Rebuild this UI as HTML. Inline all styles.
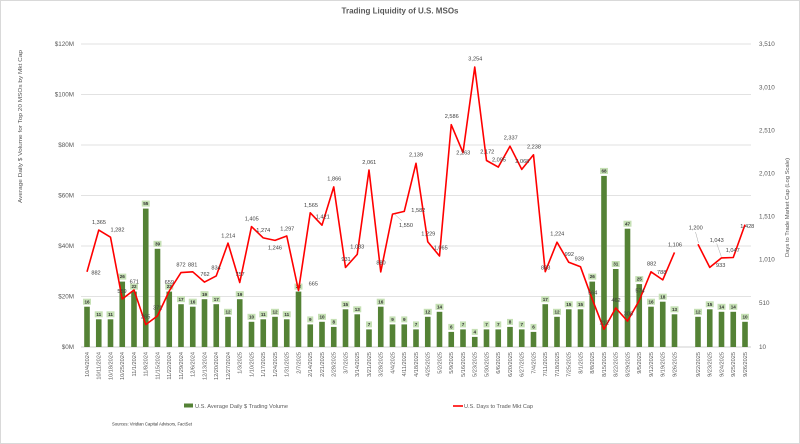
<!DOCTYPE html>
<html><head><meta charset="utf-8"><style>html,body{margin:0;padding:0;background:#fff}svg{display:block}text{font-family:"Liberation Sans",sans-serif}</style></head><body>
<svg width="800" height="444" viewBox="0 0 800 444" xmlns="http://www.w3.org/2000/svg">
<rect x="0" y="0" width="800" height="444" fill="#fff"/>
<rect x="0.5" y="0.5" width="799" height="443" fill="none" stroke="#d9d9d9" stroke-width="1"/>
<text x="400" y="13.5" text-anchor="middle" font-size="8" font-weight="bold" fill="#595959" textLength="117" lengthAdjust="spacingAndGlyphs">Trading Liquidity of U.S. MSOs</text>
<g stroke="#d9d9d9" stroke-width="0.8">
<line x1="81" y1="44" x2="751" y2="44"/><line x1="81" y1="94.5" x2="751" y2="94.5"/><line x1="81" y1="145" x2="751" y2="145"/><line x1="81" y1="195.5" x2="751" y2="195.5"/><line x1="81" y1="246" x2="751" y2="246"/><line x1="81" y1="296.5" x2="751" y2="296.5"/>
</g>
<line x1="81" y1="347" x2="751" y2="347" stroke="#bfbfbf" stroke-width="0.8"/>
<g font-size="6.3" fill="#595959" text-anchor="end">
<text x="74" y="46.2">$120M</text><text x="74" y="96.7">$100M</text><text x="74" y="147.2">$80M</text><text x="74" y="197.7">$60M</text><text x="74" y="248.2">$40M</text><text x="74" y="298.7">$20M</text><text x="74" y="349.2">$0M</text>
</g>
<g font-size="6.3" fill="#595959">
<text x="759" y="46.2">3,510</text><text x="759" y="89.3">3,010</text><text x="759" y="132.4">2,510</text><text x="759" y="175.5">2,010</text><text x="759" y="218.6">1,510</text><text x="759" y="261.7">1,010</text><text x="759" y="304.8">510</text><text x="759" y="349.2">10</text>
</g>
<text transform="translate(22,126.5) rotate(-90)" text-anchor="middle" font-size="5.8" fill="#595959" textLength="153" lengthAdjust="spacingAndGlyphs">Average Daily $ Volume for Top 20 MSOs by Mkt Cap</text>
<text transform="translate(789,207.5) rotate(-90)" text-anchor="middle" font-size="5.6" fill="#595959" textLength="99" lengthAdjust="spacingAndGlyphs">Days to Trade Market Cap (Log Scale)</text>
<g fill="#548235">
<rect x="84.2" y="306.7" width="5.6" height="40.3"/><rect x="95.95" y="319.3" width="5.6" height="27.7"/><rect x="107.7" y="319.3" width="5.6" height="27.7"/><rect x="119.45" y="281.6" width="5.6" height="65.4"/><rect x="131.2" y="291.6" width="5.6" height="55.4"/><rect x="142.95" y="208.6" width="5.6" height="138.4"/><rect x="154.7" y="248.8" width="5.6" height="98.2"/><rect x="166.45" y="291.6" width="5.6" height="55.4"/><rect x="178.2" y="304.2" width="5.6" height="42.8"/><rect x="189.95" y="306.7" width="5.6" height="40.3"/><rect x="201.7" y="299.2" width="5.6" height="47.8"/><rect x="213.45" y="304.2" width="5.6" height="42.8"/><rect x="225.2" y="316.8" width="5.6" height="30.2"/><rect x="236.95" y="299.2" width="5.6" height="47.8"/><rect x="248.7" y="321.8" width="5.6" height="25.2"/><rect x="260.45" y="319.3" width="5.6" height="27.7"/><rect x="272.2" y="316.8" width="5.6" height="30.2"/><rect x="283.95" y="319.3" width="5.6" height="27.7"/><rect x="295.7" y="291.6" width="5.6" height="55.4"/><rect x="307.45" y="324.4" width="5.6" height="22.6"/><rect x="319.2" y="321.8" width="5.6" height="25.2"/><rect x="330.95" y="326.9" width="5.6" height="20.1"/><rect x="342.7" y="309.3" width="5.6" height="37.7"/><rect x="354.45" y="314.3" width="5.6" height="32.7"/><rect x="366.2" y="329.4" width="5.6" height="17.6"/><rect x="377.95" y="306.7" width="5.6" height="40.3"/><rect x="389.7" y="324.4" width="5.6" height="22.6"/><rect x="401.45" y="324.4" width="5.6" height="22.6"/><rect x="413.2" y="329.4" width="5.6" height="17.6"/><rect x="424.95" y="316.8" width="5.6" height="30.2"/><rect x="436.7" y="311.8" width="5.6" height="35.2"/><rect x="448.45" y="331.9" width="5.6" height="15.1"/><rect x="460.2" y="329.4" width="5.6" height="17.6"/><rect x="471.95" y="336.9" width="5.6" height="10.1"/><rect x="483.7" y="329.4" width="5.6" height="17.6"/><rect x="495.45" y="329.4" width="5.6" height="17.6"/><rect x="507.2" y="326.9" width="5.6" height="20.1"/><rect x="518.95" y="329.4" width="5.6" height="17.6"/><rect x="530.7" y="331.9" width="5.6" height="15.1"/><rect x="542.45" y="304.2" width="5.6" height="42.8"/><rect x="554.2" y="316.8" width="5.6" height="30.2"/><rect x="565.95" y="309.3" width="5.6" height="37.7"/><rect x="577.7" y="309.3" width="5.6" height="37.7"/><rect x="589.45" y="281.6" width="5.6" height="65.4"/><rect x="601.2" y="175.9" width="5.6" height="171.1"/><rect x="612.95" y="269" width="5.6" height="78"/><rect x="624.7" y="228.7" width="5.6" height="118.3"/><rect x="636.45" y="284.1" width="5.6" height="62.9"/><rect x="648.2" y="306.7" width="5.6" height="40.3"/><rect x="659.95" y="301.7" width="5.6" height="45.3"/><rect x="671.7" y="314.3" width="5.6" height="32.7"/><rect x="695.2" y="316.8" width="5.6" height="30.2"/><rect x="706.95" y="309.3" width="5.6" height="37.7"/><rect x="718.7" y="311.8" width="5.6" height="35.2"/><rect x="730.45" y="311.8" width="5.6" height="35.2"/><rect x="742.2" y="321.8" width="5.6" height="25.2"/>
</g>
<g fill="#c5e0b4">
<rect x="83" y="298.7" width="8" height="6"/><rect x="94.75" y="311.3" width="8" height="6"/><rect x="106.5" y="311.3" width="8" height="6"/><rect x="118.25" y="273.6" width="8" height="6"/><rect x="130" y="283.6" width="8" height="6"/><rect x="141.75" y="200.6" width="8" height="6"/><rect x="153.5" y="240.8" width="8" height="6"/><rect x="165.25" y="283.6" width="8" height="6"/><rect x="177" y="296.2" width="8" height="6"/><rect x="188.75" y="298.7" width="8" height="6"/><rect x="200.5" y="291.2" width="8" height="6"/><rect x="212.25" y="296.2" width="8" height="6"/><rect x="224" y="308.8" width="8" height="6"/><rect x="235.75" y="291.2" width="8" height="6"/><rect x="247.5" y="313.8" width="8" height="6"/><rect x="259.25" y="311.3" width="8" height="6"/><rect x="271" y="308.8" width="8" height="6"/><rect x="282.75" y="311.3" width="8" height="6"/><rect x="294.5" y="283.6" width="8" height="6"/><rect x="307.25" y="316.4" width="6" height="6"/><rect x="318" y="313.8" width="8" height="6"/><rect x="330.75" y="318.9" width="6" height="6"/><rect x="341.5" y="301.3" width="8" height="6"/><rect x="353.25" y="306.3" width="8" height="6"/><rect x="366" y="321.4" width="6" height="6"/><rect x="376.75" y="298.7" width="8" height="6"/><rect x="389.5" y="316.4" width="6" height="6"/><rect x="401.25" y="316.4" width="6" height="6"/><rect x="413" y="321.4" width="6" height="6"/><rect x="423.75" y="308.8" width="8" height="6"/><rect x="435.5" y="303.8" width="8" height="6"/><rect x="448.25" y="323.9" width="6" height="6"/><rect x="460" y="321.4" width="6" height="6"/><rect x="471.75" y="328.9" width="6" height="6"/><rect x="483.5" y="321.4" width="6" height="6"/><rect x="495.25" y="321.4" width="6" height="6"/><rect x="507" y="318.9" width="6" height="6"/><rect x="518.75" y="321.4" width="6" height="6"/><rect x="530.5" y="323.9" width="6" height="6"/><rect x="541.25" y="296.2" width="8" height="6"/><rect x="553" y="308.8" width="8" height="6"/><rect x="564.75" y="301.3" width="8" height="6"/><rect x="576.5" y="301.3" width="8" height="6"/><rect x="588.25" y="273.6" width="8" height="6"/><rect x="600" y="167.9" width="8" height="6"/><rect x="611.75" y="261" width="8" height="6"/><rect x="623.5" y="220.7" width="8" height="6"/><rect x="635.25" y="276.1" width="8" height="6"/><rect x="647" y="298.7" width="8" height="6"/><rect x="658.75" y="293.7" width="8" height="6"/><rect x="670.5" y="306.3" width="8" height="6"/><rect x="694" y="308.8" width="8" height="6"/><rect x="705.75" y="301.3" width="8" height="6"/><rect x="717.5" y="303.8" width="8" height="6"/><rect x="729.25" y="303.8" width="8" height="6"/><rect x="741" y="313.8" width="8" height="6"/>
</g>
<g font-size="4.6" font-weight="bold" fill="#333" text-anchor="middle">
<text x="87" y="303.3">16</text><text x="98.75" y="315.9">11</text><text x="110.5" y="315.9">11</text><text x="122.25" y="278.2">26</text><text x="134" y="288.2">22</text><text x="145.75" y="205.2">55</text><text x="157.5" y="245.4">39</text><text x="169.25" y="288.2">22</text><text x="181" y="300.8">17</text><text x="192.75" y="303.3">16</text><text x="204.5" y="295.8">19</text><text x="216.25" y="300.8">17</text><text x="228" y="313.4">12</text><text x="239.75" y="295.8">19</text><text x="251.5" y="318.4">10</text><text x="263.25" y="315.9">11</text><text x="275" y="313.4">12</text><text x="286.75" y="315.9">11</text><text x="298.5" y="288.2">22</text><text x="310.25" y="321">9</text><text x="322" y="318.4">10</text><text x="333.75" y="323.5">8</text><text x="345.5" y="305.9">15</text><text x="357.25" y="310.9">13</text><text x="369" y="326">7</text><text x="380.75" y="303.3">16</text><text x="392.5" y="321">9</text><text x="404.25" y="321">9</text><text x="416" y="326">7</text><text x="427.75" y="313.4">12</text><text x="439.5" y="308.4">14</text><text x="451.25" y="328.5">6</text><text x="463" y="326">7</text><text x="474.75" y="333.5">4</text><text x="486.5" y="326">7</text><text x="498.25" y="326">7</text><text x="510" y="323.5">8</text><text x="521.75" y="326">7</text><text x="533.5" y="328.5">6</text><text x="545.25" y="300.8">17</text><text x="557" y="313.4">12</text><text x="568.75" y="305.9">15</text><text x="580.5" y="305.9">15</text><text x="592.25" y="278.2">26</text><text x="604" y="172.5">68</text><text x="615.75" y="265.6">31</text><text x="627.5" y="225.3">47</text><text x="639.25" y="280.7">25</text><text x="651" y="303.3">16</text><text x="662.75" y="298.3">18</text><text x="674.5" y="310.9">13</text><text x="698" y="313.4">12</text><text x="709.75" y="305.9">15</text><text x="721.5" y="308.4">14</text><text x="733.25" y="308.4">14</text><text x="745" y="318.4">10</text>
</g>
<g fill="none" stroke="#ff0000" stroke-width="1.6" stroke-linejoin="round">
<polyline points="87,271.8 98.75,230.1 110.5,237.2 122.25,299 134,290 145.75,324.6 157.5,315.9 169.25,291 181,272.6 192.75,271.8 204.5,282.1 216.25,275.9 228,243.1 239.75,282.5 251.5,226.6 263.25,237.9 275,240.4 286.75,236 298.5,290.5 310.25,212.8 322,225.2 333.75,186.9 345.5,267.5 357.25,254.4 369,170 380.75,271.9 392.5,214.1 404.25,211.4 416,163.3 427.75,241.8 439.5,256 451.25,124.7 463,152.6 474.75,67.1 486.5,160.5 498.25,167.1 510,146.2 521.75,169.4 533.5,154.8 545.25,271.7 557,242.2 568.75,262.3 580.5,266.8 592.25,299.2 604,329.3 615.75,308 627.5,321.1 639.25,300.5 651,271.8 662.75,279.9 674.5,252.4"/>
<polyline points="698,244.3 709.75,267.4 721.5,257.9 733.25,257.5 745,224.6"/>
</g>
<g stroke="#a6a6a6" stroke-width="0.5">
<line x1="395" y1="214.5" x2="402" y2="221"/><line x1="695.5" y1="232" x2="698.5" y2="243"/><line x1="716.7" y1="243.5" x2="721.3" y2="256.5"/>
</g>
<g font-size="5.6" fill="#404040" text-anchor="middle">
<text x="96" y="274.7">882</text><text x="99" y="224">1,365</text><text x="117.5" y="231.3">1,282</text><text x="122" y="293">559</text><text x="134.3" y="283.7">671</text><text x="145.7" y="318.7">265</text><text x="157.7" y="309.7">371</text><text x="169.3" y="284">659</text><text x="181" y="266.3">872</text><text x="192.7" y="266.3">881</text><text x="205" y="275.8">762</text><text x="216" y="269.7">834</text><text x="228.3" y="237.3">1,214</text><text x="240" y="276">757</text><text x="251.7" y="220.7">1,405</text><text x="263.3" y="232">1,274</text><text x="275" y="249.3">1,246</text><text x="287.3" y="230.3">1,297</text><text x="313.3" y="285.3">665</text><text x="311" y="207">1,565</text><text x="322.7" y="218.7">1,421</text><text x="334.3" y="180.7">1,866</text><text x="346" y="261">931</text><text x="357.3" y="248.7">1,083</text><text x="369.3" y="164">2,061</text><text x="381" y="264.7">880</text><text x="406" y="227">1,550</text><text x="418.3" y="212">1,582</text><text x="416" y="156.3">2,139</text><text x="428.3" y="235.3">1,229</text><text x="440.7" y="249.7">1,065</text><text x="451.7" y="118">2,586</text><text x="463.3" y="154.7">2,263</text><text x="475.3" y="60.3">3,254</text><text x="487.3" y="153.7">2,172</text><text x="499" y="161.3">2,095</text><text x="510.7" y="139.7">2,337</text><text x="522.3" y="163">2,068</text><text x="534" y="148.7">2,238</text><text x="545.7" y="269.7">883</text><text x="557.3" y="235.3">1,224</text><text x="569.3" y="256">992</text><text x="579.3" y="260.7">939</text><text x="592.7" y="294.7">564</text><text x="604.3" y="324.7">212</text><text x="616" y="302">462</text><text x="628.3" y="315.3">308</text><text x="640" y="292.7">574</text><text x="651.7" y="265.3">882</text><text x="661.7" y="274">788</text><text x="675" y="246.3">1,106</text><text x="695.7" y="229.7">1,200</text><text x="716.7" y="242">1,043</text><text x="720.7" y="267">933</text><text x="732.7" y="252">1,047</text><text x="747.3" y="228">1,428</text>
</g>
<g font-size="5.6" fill="#595959" text-anchor="end">
<text transform="translate(88.9,352) rotate(-90)">10/4/2024</text><text transform="translate(100.65,352) rotate(-90)">10/11/2024</text><text transform="translate(112.4,352) rotate(-90)">10/18/2024</text><text transform="translate(124.15,352) rotate(-90)">10/25/2024</text><text transform="translate(135.9,352) rotate(-90)">11/1/2024</text><text transform="translate(147.65,352) rotate(-90)">11/8/2024</text><text transform="translate(159.4,352) rotate(-90)">11/15/2024</text><text transform="translate(171.15,352) rotate(-90)">11/22/2024</text><text transform="translate(182.9,352) rotate(-90)">11/29/2024</text><text transform="translate(194.65,352) rotate(-90)">12/6/2024</text><text transform="translate(206.4,352) rotate(-90)">12/13/2024</text><text transform="translate(218.15,352) rotate(-90)">12/20/2024</text><text transform="translate(229.9,352) rotate(-90)">12/27/2024</text><text transform="translate(241.65,352) rotate(-90)">1/3/2025</text><text transform="translate(253.4,352) rotate(-90)">1/10/2025</text><text transform="translate(265.15,352) rotate(-90)">1/17/2025</text><text transform="translate(276.9,352) rotate(-90)">1/24/2025</text><text transform="translate(288.65,352) rotate(-90)">1/31/2025</text><text transform="translate(300.4,352) rotate(-90)">2/7/2025</text><text transform="translate(312.15,352) rotate(-90)">2/14/2025</text><text transform="translate(323.9,352) rotate(-90)">2/21/2025</text><text transform="translate(335.65,352) rotate(-90)">2/28/2025</text><text transform="translate(347.4,352) rotate(-90)">3/7/2025</text><text transform="translate(359.15,352) rotate(-90)">3/14/2025</text><text transform="translate(370.9,352) rotate(-90)">3/21/2025</text><text transform="translate(382.65,352) rotate(-90)">3/28/2025</text><text transform="translate(394.4,352) rotate(-90)">4/4/2025</text><text transform="translate(406.15,352) rotate(-90)">4/11/2025</text><text transform="translate(417.9,352) rotate(-90)">4/18/2025</text><text transform="translate(429.65,352) rotate(-90)">4/25/2025</text><text transform="translate(441.4,352) rotate(-90)">5/2/2025</text><text transform="translate(453.15,352) rotate(-90)">5/9/2025</text><text transform="translate(464.9,352) rotate(-90)">5/16/2025</text><text transform="translate(476.65,352) rotate(-90)">5/23/2025</text><text transform="translate(488.4,352) rotate(-90)">5/30/2025</text><text transform="translate(500.15,352) rotate(-90)">6/6/2025</text><text transform="translate(511.9,352) rotate(-90)">6/20/2025</text><text transform="translate(523.65,352) rotate(-90)">6/27/2025</text><text transform="translate(535.4,352) rotate(-90)">7/4/2025</text><text transform="translate(547.15,352) rotate(-90)">7/11/2025</text><text transform="translate(558.9,352) rotate(-90)">7/18/2025</text><text transform="translate(570.65,352) rotate(-90)">7/25/2025</text><text transform="translate(582.4,352) rotate(-90)">8/1/2025</text><text transform="translate(594.15,352) rotate(-90)">8/8/2025</text><text transform="translate(605.9,352) rotate(-90)">8/15/2025</text><text transform="translate(617.65,352) rotate(-90)">8/22/2025</text><text transform="translate(629.4,352) rotate(-90)">8/29/2025</text><text transform="translate(641.15,352) rotate(-90)">9/5/2025</text><text transform="translate(652.9,352) rotate(-90)">9/12/2025</text><text transform="translate(664.65,352) rotate(-90)">9/19/2025</text><text transform="translate(676.4,352) rotate(-90)">9/26/2025</text><text transform="translate(699.9,352) rotate(-90)">9/22/2025</text><text transform="translate(711.65,352) rotate(-90)">9/23/2025</text><text transform="translate(723.4,352) rotate(-90)">9/24/2025</text><text transform="translate(735.15,352) rotate(-90)">9/25/2025</text><text transform="translate(746.9,352) rotate(-90)">9/26/2025</text>
</g>
<rect x="184" y="403.5" width="9" height="4" fill="#548235"/>
<text x="195" y="408" font-size="5.8" fill="#595959" textLength="93" lengthAdjust="spacingAndGlyphs">U.S. Average Daily $ Trading Volume</text>
<line x1="453" y1="406" x2="463" y2="406" stroke="#ff0000" stroke-width="1.6"/>
<text x="464" y="408" font-size="5.8" fill="#595959" textLength="69" lengthAdjust="spacingAndGlyphs">U.S. Days to Trade Mkt Cap</text>
<text x="112" y="425.5" font-size="4.3" fill="#333" textLength="80" lengthAdjust="spacingAndGlyphs">Sources: Viridian Capital Advisors, FactSet</text>
</svg>
</body></html>
